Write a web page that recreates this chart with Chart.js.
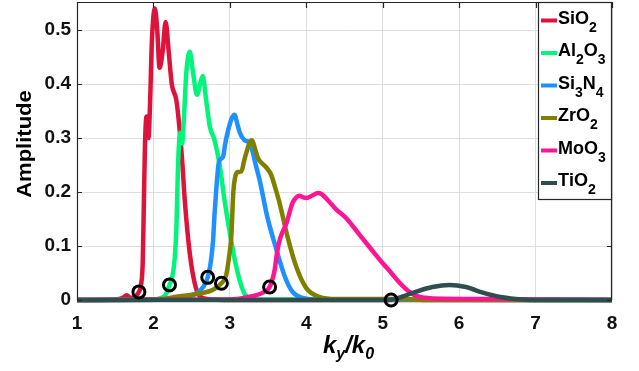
<!DOCTYPE html>
<html>
<head>
<meta charset="utf-8">
<script src="https://cdn.jsdelivr.net/npm/chart.js@4.4.1/dist/chart.umd.min.js"></script>
<style>
  html, body { margin: 0; padding: 0; background: #fff; }
  canvas { display: block; }
</style>
</head>
<body>
<canvas id="amplitudeChart" width="639" height="371"></canvas>
<script>
// spectra of amplitude vs k_y/k_0 for each material
const names = ['SiO2', 'Al2O3', 'Si3N4', 'ZrO2', 'MoO3', 'TiO2'];
const colors = ['#dc143c', '#00f57a', '#1e90ff', '#808000', '#ff1493', '#2f4f4f'];

const sio2X = [1, 1.5, 1.6, 1.65, 1.7, 1.76, 1.81, 1.84, 1.86, 1.875, 1.89, 1.91, 1.935, 1.955, 1.98, 2.02, 2.05, 2.08, 2.12, 2.16, 2.2, 2.24, 2.3, 2.34, 2.38, 2.41, 2.475, 2.54, 2.6, 2.7, 3, 8];
const sio2Y = [0, 0.001, 0.004, 0.009, 0.004, 0.006, 0.015, 0.03, 0.07, 0.18, 0.29, 0.34, 0.3, 0.36, 0.48, 0.54, 0.5, 0.43, 0.46, 0.515, 0.46, 0.4, 0.37, 0.32, 0.25, 0.185, 0.087, 0.031, 0.008, 0.002, 0, 0];

const al2o3X = [1, 2, 2.15, 2.21, 2.25, 2.28, 2.3, 2.32, 2.335, 2.35, 2.375, 2.4, 2.43, 2.475, 2.52, 2.57, 2.61, 2.645, 2.69, 2.74, 2.8, 2.87, 2.93, 3, 3.085, 3.17, 3.23, 3.35, 8];
const al2o3Y = [0, 0.001, 0.008, 0.028, 0.045, 0.08, 0.13, 0.24, 0.29, 0.31, 0.29, 0.34, 0.42, 0.46, 0.42, 0.38, 0.4, 0.415, 0.37, 0.32, 0.296, 0.247, 0.185, 0.124, 0.061, 0.018, 0.005, 0.001, 0];

const si3n4X = [1, 2.3, 2.45, 2.56, 2.65, 2.71, 2.75, 2.78, 2.8, 2.82, 2.85, 2.87, 2.91, 2.94, 2.97, 3.02, 3.06, 3.1, 3.13, 3.19, 3.24, 3.28, 3.33, 3.39, 3.49, 3.61, 3.72, 3.82, 3.95, 4.1, 8];
const si3n4Y = [0, 0.001, 0.004, 0.012, 0.024, 0.042, 0.07, 0.11, 0.16, 0.2, 0.25, 0.26, 0.265, 0.29, 0.31, 0.335, 0.343, 0.325, 0.31, 0.296, 0.293, 0.285, 0.255, 0.222, 0.154, 0.093, 0.043, 0.015, 0.004, 0.001, 0];

const zro2X = [1, 2.1, 2.3, 2.6, 2.78, 2.89, 2.95, 2.99, 3.02, 3.045, 3.07, 3.1, 3.15, 3.19, 3.22, 3.26, 3.29, 3.33, 3.37, 3.43, 3.48, 3.54, 3.6, 3.65, 3.755, 3.87, 4, 4.17, 4.4, 5.3, 5.6, 8];
const zro2Y = [0, 0.002, 0.006, 0.012, 0.019, 0.031, 0.045, 0.08, 0.12, 0.2, 0.228, 0.237, 0.238, 0.26, 0.275, 0.292, 0.296, 0.28, 0.262, 0.252, 0.245, 0.232, 0.205, 0.18, 0.117, 0.061, 0.022, 0.006, 0.002, 0.002, 0, 0];

const moo3X = [1, 3, 3.26, 3.45, 3.52, 3.585, 3.62, 3.66, 3.74, 3.82, 3.87, 3.91, 3.96, 4, 4.085, 4.15, 4.2, 4.3, 4.39, 4.52, 4.69, 4.85, 5, 5.1, 5.22, 5.35, 5.45, 5.65, 6.5, 7, 8];
const moo3Y = [0, 0.001, 0.006, 0.015, 0.024, 0.055, 0.09, 0.115, 0.142, 0.18, 0.19, 0.193, 0.19, 0.189, 0.194, 0.198, 0.196, 0.182, 0.168, 0.152, 0.122, 0.094, 0.068, 0.052, 0.032, 0.015, 0.007, 0.003, 0.002, 0.001, 0];

const tio2X = [1, 5.05, 5.12, 5.25, 5.43, 5.65, 5.87, 6.09, 6.3, 6.52, 6.74, 7, 8];
const tio2Y = [0, 0, 0.001, 0.006, 0.015, 0.024, 0.028, 0.024, 0.014, 0.006, 0.002, 0, 0];

// cut-off markers
const markerX = [1.81, 2.21, 2.71, 2.89, 3.52, 5.11];
const markerY = [0.015, 0.028, 0.042, 0.031, 0.024, 0];

const xTicks = [1, 2, 3, 4, 5, 6, 7, 8];
const yTicks = [0, 0.1, 0.2, 0.3, 0.4, 0.5];

const seriesX = [sio2X, al2o3X, si3n4X, zro2X, moo3X, tio2X];
const seriesY = [sio2Y, al2o3Y, si3n4Y, zro2Y, moo3Y, tio2Y];

const FONT = "'Liberation Sans', Arial, Helvetica, sans-serif";
const INK = '#262626';

const toPoints = (xs, ys) => xs.map((x, i) => ({ x: x, y: ys[i] }));

const datasets = names.map((name, i) => ({
    label: name,
    data: toPoints(seriesX[i], seriesY[i]),
    showLine: true,
    borderColor: colors[i],
    borderWidth: 4.5,
    pointRadius: 0,
    cubicInterpolationMode: 'monotone',
    clip: false,
    order: names.length - i
}));

datasets.push({
    label: 'markers',
    data: toPoints(markerX, markerY),
    showLine: false,
    pointRadius: 6,
    pointBorderWidth: 3,
    pointBorderColor: '#000',
    pointBackgroundColor: 'rgba(0,0,0,0)',
    clip: false,
    order: 0
});

// writes a formula with its digits as subscripts
function drawFormula(c, text, x, y, size, subSize, drop, style) {
    for (const ch of text) {
        const sub = /[0-9]/.test(ch);
        c.font = style + ' ' + (sub ? subSize : size) + 'px ' + FONT;
        c.fillText(ch, x, sub ? y + drop : y);
        x += c.measureText(ch).width;
    }
    return x;
}

// box around the axes with inward ticks on all four sides
const framePlugin = {
    id: 'frame',
    afterDatasetsDraw(chart) {
        const c = chart.ctx;
        const a = chart.chartArea;
        const sx = chart.scales.x;
        const sy = chart.scales.y;
        c.save();
        c.strokeStyle = INK;
        c.lineWidth = 1.2;
        c.beginPath();
        c.moveTo(a.left + 0.5, a.bottom);
        c.lineTo(a.left + 0.5, a.top + 0.5);
        c.lineTo(a.right - 0.5, a.top + 0.5);
        c.lineTo(a.right - 0.5, a.bottom);
        xTicks.forEach(v => {
            const px = Math.round(sx.getPixelForValue(v)) + 0.5;
            c.moveTo(px, a.top); c.lineTo(px, a.top + 6);
        });
        yTicks.forEach(v => {
            const py = Math.round(sy.getPixelForValue(v)) + 0.5;
            c.moveTo(a.left, py); c.lineTo(a.left + 5, py);
            c.moveTo(a.right, py); c.lineTo(a.right - 5, py);
        });
        c.stroke();
        c.restore();
    }
};

const labelPlugin = {
    id: 'labels',
    afterDraw(chart) {
        const c = chart.ctx;
        const a = chart.chartArea;
        c.save();
        c.fillStyle = '#000';

        // y axis title
        c.save();
        c.translate(31, 144);
        c.rotate(-Math.PI / 2);
        c.scale(1.1, 1);
        c.font = 'bold 20px ' + FONT;
        c.textAlign = 'center';
        c.textBaseline = 'alphabetic';
        c.fillText('Amplitude', 0, 0);
        c.restore();

        // x axis title k_y/k_0
        c.textAlign = 'left';
        c.textBaseline = 'alphabetic';
        const parts = [['k', 0], ['y', 1], ['/', 0], ['k', 0], ['0', 1]];
        const fontOf = p => 'italic bold ' + (p[1] ? 16 : 24) + 'px ' + FONT;
        let w = 0;
        parts.forEach(p => { c.font = fontOf(p); w += c.measureText(p[0]).width; });
        let x = (a.left + a.right) / 2 + 4 - w / 2;
        parts.forEach(p => {
            c.font = fontOf(p);
            c.fillText(p[0], x, p[1] ? 359 : 353);
            x += c.measureText(p[0]).width;
        });

        // legend box
        const box = { left: 538, top: 2, right: 612, bottom: 199 };
        c.fillStyle = '#fff';
        c.fillRect(box.left, box.top, box.right - box.left, box.bottom - box.top);
        c.strokeStyle = INK;
        c.lineWidth = 1.2;
        c.strokeRect(box.left + 0.5, box.top + 0.5, box.right - box.left - 1, box.bottom - box.top);
        names.forEach((name, i) => {
            const base = 23.5 + i * 32.5;
            c.strokeStyle = colors[i];
            c.lineWidth = 4;
            c.beginPath();
            c.moveTo(541, base - 3);
            c.lineTo(557, base - 3);
            c.stroke();
            c.fillStyle = '#000';
            drawFormula(c, name, 558, base, 18, 14, 8, 'bold');
        });
        c.restore();
    }
};

const noPadding = s => {
    s.paddingTop = 0;
    s.paddingBottom = 0;
    s.paddingLeft = 0;
    s.paddingRight = 0;
};

new Chart(document.getElementById('amplitudeChart'), {
    type: 'scatter',
    data: { datasets: datasets },
    options: {
        responsive: false,
        animation: false,
        layout: { autoPadding: false, padding: { top: 2, right: 27, left: 0, bottom: 0 } },
        plugins: {
            legend: { display: false },
            tooltip: { enabled: false }
        },
        scales: {
            x: {
                type: 'linear',
                min: 1,
                max: 8,
                afterFit: s => { s.height = 71; noPadding(s); },
                ticks: { stepSize: 1, padding: 12, color: '#111', font: { family: FONT, size: 19, weight: 'bold' } },
                grid: { color: '#dedede', drawTicks: false },
                border: { display: false }
            },
            y: {
                type: 'linear',
                min: 0,
                max: 0.552,
                afterFit: s => { s.width = 77; noPadding(s); },
                ticks: { stepSize: 0.1, includeBounds: false, padding: 6, color: '#111', font: { family: FONT, size: 19, weight: 'bold' } },
                grid: { color: '#dedede', drawTicks: false },
                border: { display: false }
            }
        }
    },
    plugins: [framePlugin, labelPlugin]
});
</script>
</body>
</html>
